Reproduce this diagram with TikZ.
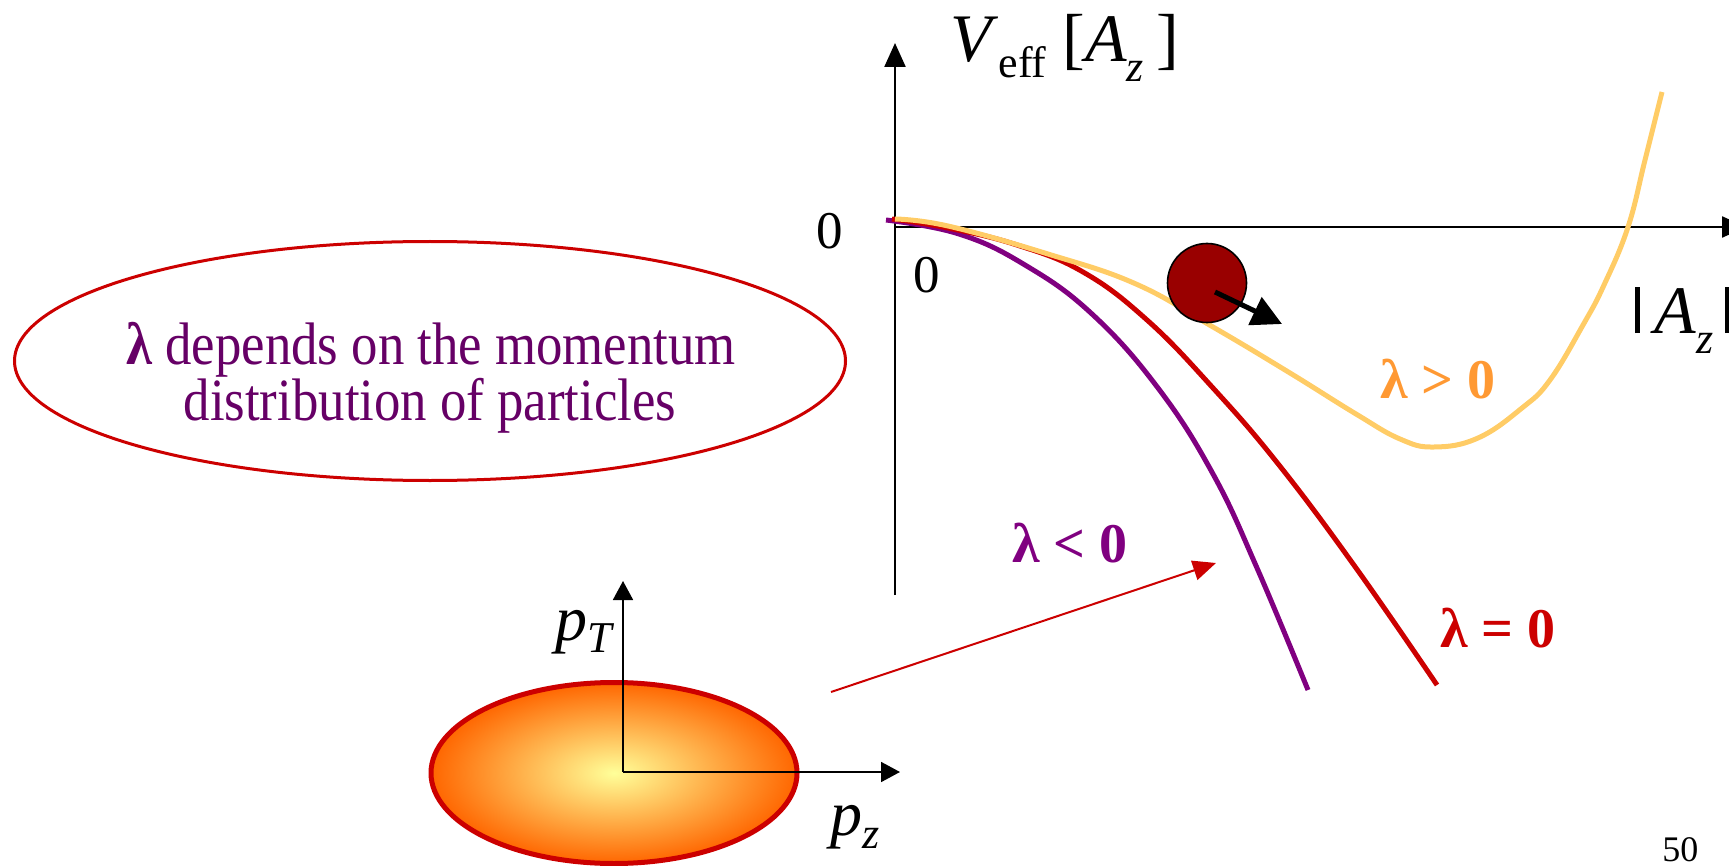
\documentclass[tikz,border=0pt]{standalone}
\usepackage{fontspec}
\setmainfont{Liberation Serif}
\usetikzlibrary{arrows.meta,shapes.geometric}
\definecolor{cpurple}{HTML}{800080}
\definecolor{cred}{HTML}{CC0000}
\definecolor{cyellow}{HTML}{FFCC66}
\definecolor{corange}{HTML}{FF9933}
\definecolor{ctext}{HTML}{660066}
\definecolor{cball}{HTML}{990000}
\definecolor{cinner}{HTML}{FFFF99}
\definecolor{couter}{HTML}{FF6600}
\newcommand{\subtxt}[2]{\raisebox{#1}{\fontsize{22}{26}\selectfont #2}}
\begin{document}
\begin{tikzpicture}[x=0.5pt,y=-0.5pt,
  axisline/.style={line width=1.2pt, -{Triangle[length=12pt,width=10.5pt]}},
  smallaxis/.style={line width=0.9pt, -{Triangle[length=9.5pt,width=10pt]}},
  curve/.style={line width=2.5pt, line join=round},
  lbl/.style={inner sep=0pt, anchor=base west},
  big/.style={font=\fontsize{34}{40}\selectfont},
  zero/.style={inner sep=0pt, font=\fontsize{26.5}{30}\selectfont},
  lam/.style={inner sep=0pt, anchor=base west, font=\fontsize{28}{32}\selectfont\bfseries},
  infotext/.style={inner sep=0pt, anchor=base, text=ctext, font=\fontsize{30}{36}\selectfont}
]
\useasboundingbox (0,0) rectangle (1729,866);

% main axes
\coordinate (O) at (895,227);
\coordinate (ybot) at (895,595);
\coordinate (ytop) at (895,43);
\coordinate (xend) at (1746,227);
\draw[axisline] (ybot) -- (ytop);
\draw[axisline] (O) -- (xend);

% axis labels
\node[lbl, big] (vlab) at (950,62) {\textit{V}\subtxt{-8pt}{eff}\hspace{8pt}[\textit{A}\subtxt{-10pt}{\textit{z}}\hspace{6pt}]};
\node[lbl, big] (alab) at (1635,333) {\rule{2.5pt}{23pt}\hspace{7pt}\textit{A}\subtxt{-10pt}{\textit{z}}\hspace{6pt}\rule{2.5pt}{23pt}};
\node[zero] (z1) at (830,231) {0};
\node[zero] (z2) at (927,275) {0};

% potential curves
\draw[curve, cpurple] plot[smooth, tension=0.7] coordinates {(886,220) (959,234) (1025,265) (1092,314) (1158,388) (1213,474) (1257,568) (1308,690)};
\draw[curve, cred] plot[smooth, tension=0.7] coordinates {(892,219) (948,228) (1017,245) (1083,272) (1147,320) (1213,388) (1279,465) (1356,568) (1437,685)};
\draw[curve, cyellow] plot[smooth, tension=0.7] coordinates {(895,219) (948,226) (1048,254) (1136,284) (1213,327) (1290,373) (1356,414) (1400,439) (1434,447) (1478,438) (1522,408) (1550,380) (1583,325) (1604,285) (1628,227) (1645,160) (1662,92)};

% ball
\node[circle, draw=black, line width=0.8pt, fill=cball, minimum size=39.5pt, inner sep=0pt] (ball) at (1207,283) {};
\coordinate (bs) at (1215,292);
\coordinate (bt) at (1282,324);
\draw[line width=2.5pt, -{Triangle[length=15pt,width=15pt]}] (bs) -- (bt);

% curve labels
\node[lam, text=corange] (lpos) at (1380,398) {λ > 0};
\node[lam, text=cred] (lzero) at (1440,647) {λ = 0};
\node[lam, text=cpurple] (lneg) at (1012,562) {λ < 0};

% info ellipse
\node[ellipse, draw=cred, line width=1.5pt, minimum width=415.5pt, minimum height=119.5pt, inner sep=0pt] (info) at (430,361) {};
\node[infotext] (t1) at (431,364) {\scalebox{0.88}[1]{\textbf{λ} depends on the momentum}};
\node[infotext] (t2) at (430,420) {\scalebox{0.88}[1]{distribution of particles}};

% momentum distribution
\node[ellipse, draw=cred, line width=2.5pt, minimum width=183pt, minimum height=90.5pt, inner sep=0pt, inner color=cinner, outer color=couter] (dist) at (614,773) {};
\coordinate (po) at (623,772);
\coordinate (pt) at (623,581);
\coordinate (pz) at (900,772);
\draw[smallaxis] (po) -- (pt);
\draw[smallaxis] (po) -- (pz);
\node[lbl, font=\fontsize{32}{36}\selectfont] (ptlab) at (555,640) {\textit{p}\subtxt{-6pt}{\textit{T}}};
\node[lbl, font=\fontsize{32}{36}\selectfont] (pzlab) at (830,835) {\textit{p}\subtxt{-6.5pt}{\textit{z}}};

% thin arrow
\coordinate (ta) at (831,692);
\coordinate (tb) at (1216,563);
\draw[cred, line width=1pt, -{Triangle[length=11.5pt,width=10pt]}] (ta) -- (tb);

% page number
\node[lbl, font=\fontsize{18}{20}\selectfont] (pg) at (1662,861) {50};
\end{tikzpicture}
\end{document}
